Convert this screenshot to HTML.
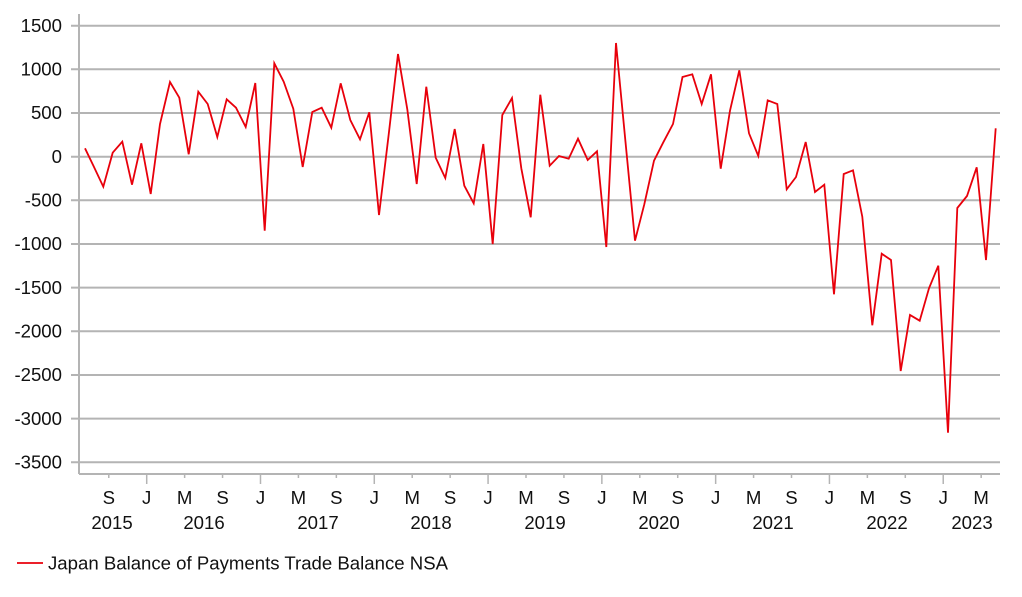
<!DOCTYPE html>
<html><head><meta charset="utf-8"><style>
body{margin:0;background:#fff;}
svg{display:block;font-family:"Liberation Sans",Arial,sans-serif;}
</style></head><body>
<svg width="1022" height="597" viewBox="0 0 1022 597" xmlns="http://www.w3.org/2000/svg">
<g stroke="#b4b4b4" stroke-width="2">
<line x1="71" y1="25.7" x2="1000" y2="25.7"/>
<line x1="71" y1="69.3" x2="1000" y2="69.3"/>
<line x1="71" y1="113" x2="1000" y2="113"/>
<line x1="71" y1="156.7" x2="1000" y2="156.7"/>
<line x1="71" y1="200.3" x2="1000" y2="200.3"/>
<line x1="71" y1="244" x2="1000" y2="244"/>
<line x1="71" y1="287.6" x2="1000" y2="287.6"/>
<line x1="71" y1="331.3" x2="1000" y2="331.3"/>
<line x1="71" y1="375" x2="1000" y2="375"/>
<line x1="71" y1="418.6" x2="1000" y2="418.6"/>
<line x1="71" y1="462.3" x2="1000" y2="462.3"/>
<line x1="79" y1="14" x2="79" y2="474"/>
<line x1="79" y1="474" x2="1000" y2="474"/>
</g>
<g stroke="#b4b4b4" stroke-width="1.5" id="ticks"></g>
<g font-size="18.6" fill="#111" text-anchor="end">
<text x="62" y="32">1500</text><text x="62" y="75.5">1000</text><text x="62" y="119">500</text><text x="62" y="163">0</text>
<text x="62" y="206.5">-500</text><text x="62" y="250">-1000</text><text x="62" y="294">-1500</text><text x="62" y="337.5">-2000</text>
<text x="62" y="381">-2500</text><text x="62" y="425">-3000</text><text x="62" y="468.5">-3500</text>
</g>
<g font-size="18.6" fill="#111" text-anchor="middle" id="xl"></g>
<g font-size="18.6" fill="#111" text-anchor="middle">
<text x="112" y="529">2015</text><text x="204" y="529">2016</text><text x="318" y="529">2017</text><text x="431" y="529">2018</text>
<text x="545" y="529">2019</text><text x="659" y="529">2020</text><text x="773" y="529">2021</text><text x="887" y="529">2022</text><text x="972" y="529">2023</text>
</g>
<polyline fill="none" stroke="#e8000b" stroke-width="1.8" stroke-linejoin="miter" points="85,148.3 94,167 103.3,186.7 112.7,152.7 122.3,141.7 132,184.7 141.3,143.3 150.7,194 160,124 170,82 179.3,97.7 188.7,154.3 198.3,91.7 207.7,104 217.3,137 226.7,99.3 236,107.7 245.7,127 255.3,83 264.7,230.7 274.3,63.3 283.7,81.7 293.3,108.7 302.7,167 312.3,112 321.7,107.7 331.3,127.7 340.7,83.3 350.3,120 360,139.3 369.3,112.3 379,215 388.7,134.5 398,54 407.3,109.3 416.7,184 426.3,86.7 435.7,157.7 445.3,178 454.7,129 464.3,185.7 473.7,203.3 483.3,144 492.7,244 502.3,115 512,98 521.3,168.3 530.7,217.3 540.3,94.7 549.7,165.7 559,156 568.7,158.7 578,138.7 587.7,160 597,151.3 606.3,247 616,43 625.5,142 635,240.7 644.3,204.3 654,160.7 663.3,142.3 673,124 682.5,77 692.3,74.3 701.7,104 711,74.3 720.7,168.7 730,110.7 739.3,70.3 749,133.3 758.3,156 767.7,100.3 777.3,104 786.7,189.3 796,177 805.7,142 815,192 824.3,184.7 834,294.3 843.7,174 853,170.3 862.3,216.7 872.3,325.3 881.7,253.7 891,260 900.7,371 910,315 919.7,320.7 929,288.3 938.3,265.7 948,432.7 957.3,208 967,196 976.7,167.3 986,260 995.7,128.3"/>
<line x1="17" y1="563" x2="43" y2="563" stroke="#e8000b" stroke-width="1.8"/>
<text x="48" y="569.5" font-size="18.6" fill="#111">Japan Balance of Payments Trade Balance NSA</text>
<script>
var t=document.getElementById('ticks'),xl=document.getElementById('xl'),ns='http://www.w3.org/2000/svg';
var labs=['J','M','S'];
for(var k=-1;k<23;k++){var x=146.7+k*37.93;if(x<80||x>1000)continue;var i=((k%3)+3)%3;
var l=document.createElementNS(ns,'line');l.setAttribute('x1',x);l.setAttribute('x2',x);l.setAttribute('y1',474);l.setAttribute('y2',i==0?484:478);t.appendChild(l);
var tx=document.createElementNS(ns,'text');tx.setAttribute('x',x);tx.setAttribute('y',504);tx.textContent=labs[i];xl.appendChild(tx);}
</script>
</svg>
</body></html>
